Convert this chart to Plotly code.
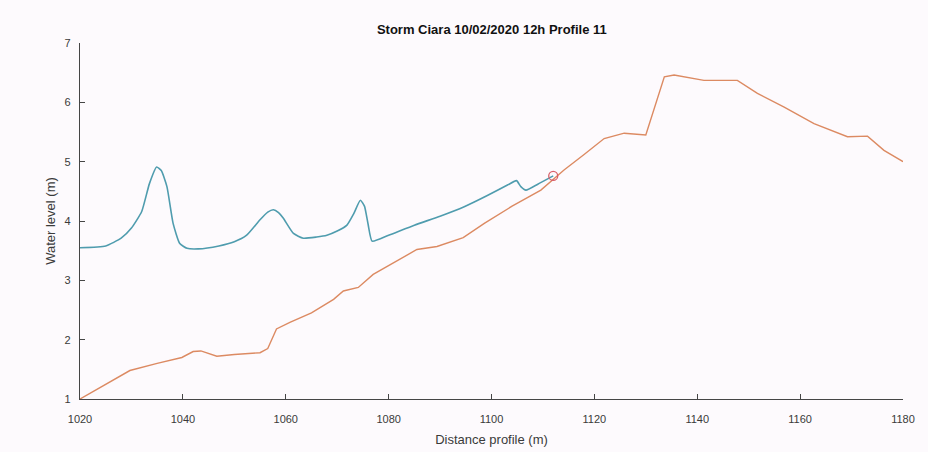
import plotly.graph_objects as go

# Water surface along the cross-shore profile (m)
water_x = [1020, 1025, 1028, 1030, 1032, 1033.5, 1034.9, 1035.8, 1036.9, 1038.1, 1039.4,
           1040.8, 1043, 1047, 1050, 1052.4, 1055, 1056.5, 1057.6, 1058.6, 1059.5, 1061.5,
           1063.4, 1066, 1068, 1070, 1071.9, 1073.2, 1074.5, 1075.3, 1076, 1076.8, 1080,
           1085, 1090, 1094.7, 1099, 1103.2, 1104.85, 1105.7, 1106.7, 1109, 1112]
water_y = [3.55, 3.58, 3.71, 3.88, 4.16, 4.63, 4.91, 4.85, 4.58, 3.96, 3.62,
           3.54, 3.53, 3.58, 3.65, 3.76, 4.02, 4.15, 4.19, 4.14, 4.05, 3.79,
           3.71, 3.73, 3.76, 3.83, 3.93, 4.12, 4.35, 4.25, 3.95, 3.66, 3.76,
           3.93, 4.08, 4.24, 4.42, 4.61, 4.68, 4.58, 4.52, 4.62, 4.76]

# Bed / beach elevation along the profile (m)
bed_x = [1020, 1025, 1029.7, 1035, 1039.8, 1042, 1043.5, 1046.6, 1050, 1055, 1056.5,
         1058.2, 1060.8, 1065, 1069.3, 1071.2, 1074.1, 1077, 1081, 1085.5, 1089.4,
         1094.5, 1098.6, 1104, 1109.6, 1114.1, 1118, 1121.9, 1125.8, 1130, 1133.6,
         1135.5, 1141.3, 1147.8, 1151.7, 1156.9, 1162.7, 1169.2, 1173.1, 1176.3, 1180]
bed_y = [1.0, 1.25, 1.48, 1.6, 1.70, 1.80, 1.81, 1.72, 1.75, 1.78, 1.85,
         2.18, 2.29, 2.45, 2.68, 2.82, 2.88, 3.10, 3.3, 3.52, 3.57,
         3.72, 3.96, 4.25, 4.52, 4.86, 5.12, 5.39, 5.48, 5.45, 6.43,
         6.46, 6.37, 6.37, 6.15, 5.92, 5.64, 5.42, 5.43, 5.19, 5.0]

# Run-up limit (intersection of water surface and bed)
runup_x = [1112]
runup_y = [4.76]

x_ticks = [1020, 1040, 1060, 1080, 1100, 1120, 1140, 1160, 1180]
y_ticks = [1, 2, 3, 4, 5, 6, 7]

bg = "#fdfafd"
axis_col = "#454545"
runup_col = "#d9606a"

fig = go.Figure()
fig.add_trace(go.Scatter(x=water_x, y=water_y, mode="lines",
                         line=dict(color="#4f9cae", width=1.6, shape="spline", smoothing=0.5),
                         showlegend=False))
fig.add_trace(go.Scatter(x=bed_x, y=bed_y, mode="lines",
                         line=dict(color="#dc8a62", width=1.4),
                         showlegend=False))
fig.add_trace(go.Scatter(x=runup_x, y=runup_y, mode="markers",
                         marker=dict(symbol="circle-open", size=9, color=runup_col,
                                     line=dict(color=runup_col, width=1.3)),
                         showlegend=False))

fig.update_layout(
    width=928, height=452,
    margin=dict(l=80, r=25, t=43, b=53),
    paper_bgcolor=bg, plot_bgcolor=bg,
    font=dict(family="Liberation Sans, Arial, sans-serif", color="#3a3a3a", size=12),
    title=dict(text="<b>Storm Ciara 10/02/2020 12h Profile 11</b>",
               x=0.53, xanchor="center", y=0.935, yanchor="middle",
               font=dict(size=13, color="#111111")),
)
fig.update_xaxes(range=[1020, 1180], tickvals=x_ticks, ticks="inside", ticklen=5,
                 tickcolor=axis_col, showline=True, linecolor=axis_col, linewidth=1.2,
                 showgrid=False, zeroline=False, ticklabelstandoff=10, automargin=False,
                 title=dict(text="Distance profile (m)", standoff=10, font=dict(size=13)),
                 tickfont=dict(size=11))
fig.update_yaxes(range=[1, 7], tickvals=y_ticks, ticks="inside", ticklen=5,
                 tickcolor=axis_col, showline=True, linecolor=axis_col, linewidth=1.2,
                 showgrid=False, zeroline=False, ticklabelstandoff=6, automargin=False,
                 title=dict(text="Water level (m)", standoff=6, font=dict(size=13)),
                 tickfont=dict(size=11))

fig.write_html("out.html")
